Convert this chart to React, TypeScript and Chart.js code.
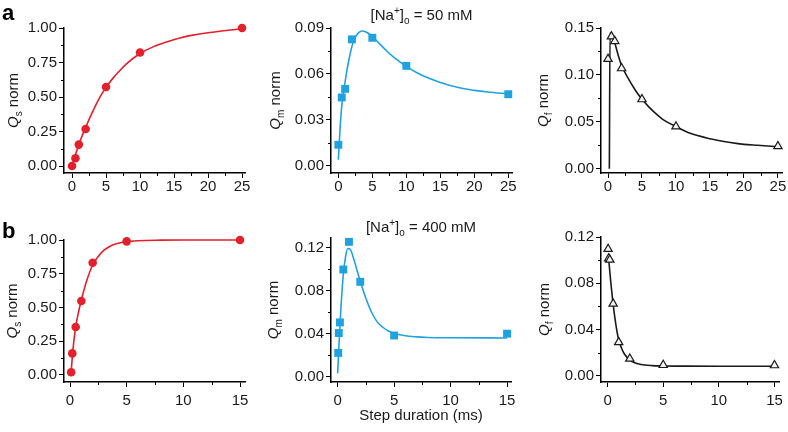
import React, { useEffect, useRef } from "react";
import { Chart, registerables } from "chart.js";

Chart.register(...registerables);

const FONT = "'Liberation Sans', Arial, Helvetica, sans-serif";

// ---------- measured points ----------
const stepA = [0, 0.5, 1, 2, 5, 10, 25];
const qsA = [0.0, 0.056, 0.155, 0.268, 0.572, 0.822, 1.0];
const qmA = [0.0138, 0.0447, 0.0503, 0.0826, 0.0836, 0.0653, 0.0468];
const qfA = [0.117, 0.141, 0.136, 0.107, 0.074, 0.045, 0.024];

const stepBs = [0.1, 0.2, 0.5, 1, 2, 5, 15];
const qsB = [0.02, 0.16, 0.355, 0.548, 0.832, 0.99, 1.0];
const stepB = [0.05, 0.1, 0.2, 0.5, 1, 2, 5, 15];
const qmB = [0.022, 0.0406, 0.0505, 0.0999, 0.1257, 0.0884, 0.0383, 0.04];
const qfB = [0.1096, 0.1015, 0.1003, 0.0623, 0.029, 0.0147, 0.0092, 0.009];

// ---------- fitted curves ----------
const fitQsAx = [0, 0.5, 1, 1.5, 2, 3, 4, 5, 6, 7, 8, 10, 12, 14, 16, 18, 20, 22, 25];
const fitQsAy = [0, 0.08, 0.155, 0.22, 0.28, 0.39, 0.49, 0.57, 0.635, 0.69, 0.74, 0.815, 0.865, 0.9, 0.93, 0.95, 0.965, 0.978, 0.995];
const fitQmAx = [0, 0.25, 0.5, 0.75, 1, 1.25, 1.5, 2, 2.5, 3, 3.5, 4, 5, 6, 7, 8, 10, 12, 15, 18, 20, 22, 25];
const fitQmAy = [0.004, 0.024, 0.039, 0.048, 0.055, 0.062, 0.068, 0.078, 0.084, 0.087, 0.088, 0.0875, 0.0845, 0.08, 0.0755, 0.0715, 0.065, 0.0598, 0.0545, 0.0508, 0.0493, 0.0482, 0.047];
const fitQfAx = [0.2, 0.3, 0.6, 1, 1.5, 2, 3, 4, 5, 6, 7, 8, 10, 12, 15, 18, 20, 22, 25];
const fitQfAy = [0, 0.145, 0.141, 0.134, 0.121, 0.11, 0.096, 0.084, 0.074, 0.066, 0.059, 0.053, 0.045, 0.038, 0.032, 0.028, 0.026, 0.025, 0.0235];

const fitQsBx = [0.1, 0.25, 0.5, 0.75, 1, 1.5, 2, 2.5, 3, 3.5, 4, 5, 6, 8, 10, 15];
const fitQsBy = [0.02, 0.18, 0.355, 0.465, 0.555, 0.705, 0.815, 0.88, 0.925, 0.952, 0.97, 0.988, 0.995, 0.999, 1.0, 1.0];
const fitQmBx = [0, 0.1, 0.2, 0.3, 0.5, 0.7, 0.9, 1.1, 1.3, 1.5, 2, 2.5, 3, 3.5, 4, 4.5, 5, 6, 7, 8, 10, 15];
const fitQmBy = [0.003, 0.026, 0.047, 0.066, 0.095, 0.112, 0.1195, 0.119, 0.114, 0.107, 0.089, 0.073, 0.06, 0.051, 0.046, 0.0425, 0.0405, 0.038, 0.037, 0.0365, 0.0362, 0.036];
const fitQfBx = [0.1, 0.25, 0.5, 0.75, 1, 1.25, 1.5, 2, 2.5, 3, 4, 5, 7, 10, 15];
const fitQfBy = [0.101, 0.085, 0.062, 0.044, 0.031, 0.024, 0.019, 0.0135, 0.011, 0.0097, 0.0088, 0.0085, 0.0083, 0.0082, 0.0082];

// ---------- ticks ----------
const xTicksA = [0, 5, 10, 15, 20, 25];
const xTickLabelsA = ["0", "5", "10", "15", "20", "25"];
const xTicksB = [0, 5, 10, 15];
const xTickLabelsB = ["0", "5", "10", "15"];
const qsTicks = [0, 0.25, 0.5, 0.75, 1];
const qsTickLabels = ["0.00", "0.25", "0.50", "0.75", "1.00"];
const qmTicksA = [0, 0.03, 0.06, 0.09];
const qmTickLabelsA = ["0.00", "0.03", "0.06", "0.09"];
const qfTicksA = [0, 0.05, 0.1, 0.15];
const qfTickLabelsA = ["0.00", "0.05", "0.10", "0.15"];
const qTicksB = [0, 0.04, 0.08, 0.12];
const qTickLabelsB = ["0.00", "0.04", "0.08", "0.12"];

const RED = "#e3202b";
const BLUE = "#1fa3e0";
const BLACK = "#1a1a1a";

type Run = { t: string; i?: boolean; sub?: boolean; sup?: boolean; b?: boolean };

type Panel = {
  box: [number, number, number, number];
  area: [number, number, number, number];
  xr: [number, number];
  yr: [number, number];
  xs: number[]; ys: number[];
  fx: number[]; fy: number[];
  xt: number[]; xl: string[];
  yt: number[]; yl: string[];
  color: string;
  style: "circle" | "rect" | "triangle";
  sub: string;
  titleOff: number;
  xPad: number;
  title?: string;
  titleY?: number;
  letter?: string;
  xTitle?: boolean;
};

const panels: Panel[] = [
  { box: [0, 0, 262, 200], area: [64, 28, 245, 173], xr: [-1.18, 25.44], yr: [-0.0507, 1.0], xs: stepA, ys: qsA, fx: fitQsAx, fy: fitQsAy, xt: xTicksA, xl: xTickLabelsA, yt: qsTicks, yl: qsTickLabels, color: RED, style: "circle", sub: "s", titleOff: 51, xPad: 0, letter: "a" },
  { box: [262, 0, 262, 200], area: [331, 28, 512, 173], xr: [-1.08, 25.55], yr: [-0.0046, 0.09], xs: stepA, ys: qmA, fx: fitQmAx, fy: fitQmAy, xt: xTicksA, xl: xTickLabelsA, yt: qmTicksA, yl: qmTickLabelsA, color: BLUE, style: "rect", sub: "m", titleOff: 56, xPad: 0, title: "50", titleY: 20 },
  { box: [524, 0, 264, 200], area: [601, 28, 782, 173], xr: [-1.03, 25.6], yr: [-0.0045, 0.15], xs: stepA, ys: qfA, fx: fitQfAx, fy: fitQfAy, xt: xTicksA, xl: xTickLabelsA, yt: qfTicksA, yl: qfTickLabelsA, color: BLACK, style: "triangle", sub: "f", titleOff: 58, xPad: 0 },
  { box: [0, 200, 262, 232], area: [64, 240, 245, 382], xr: [-0.53, 15.44], yr: [-0.052, 1.0], xs: stepBs, ys: qsB, fx: fitQsBx, fy: fitQsBy, xt: xTicksB, xl: xTickLabelsB, yt: qsTicks, yl: qsTickLabels, color: RED, style: "circle", sub: "s", titleOff: 52, xPad: 5, letter: "b" },
  { box: [262, 200, 262, 232], area: [331, 238, 511, 382], xr: [-0.59, 15.35], yr: [-0.0051, 0.1293], xs: stepB, ys: qmB, fx: fitQmBx, fy: fitQmBy, xt: xTicksB, xl: xTickLabelsB, yt: qTicksB, yl: qTickLabelsB, color: BLUE, style: "rect", sub: "m", titleOff: 58, xPad: 5, title: "400", titleY: 232, xTitle: true },
  { box: [524, 200, 264, 232], area: [601, 237, 782, 382], xr: [-0.59, 15.44], yr: [-0.0054, 0.12], xs: stepB, ys: qfB, fx: fitQfBx, fy: fitQfBy, xt: xTicksB, xl: xTickLabelsB, yt: qTicksB, yl: qTickLabelsB, color: BLACK, style: "triangle", sub: "f", titleOff: 57, xPad: 5 },
];

function runFont(r: Run, size: number) {
  const s = r.sub || r.sup ? Math.round(size * 0.65) : size;
  return `${r.i ? "italic " : ""}${r.b ? "bold " : ""}${s}px ${FONT}`;
}

function drawRuns(ctx: CanvasRenderingContext2D, runs: Run[], size: number, x: number, y: number, rotate: boolean) {
  ctx.save();
  ctx.fillStyle = BLACK;
  ctx.textBaseline = "alphabetic";
  ctx.textAlign = "left";
  let total = 0;
  const widths = runs.map((r) => {
    ctx.font = runFont(r, size);
    const w = ctx.measureText(r.t).width;
    total += w;
    return w;
  });
  ctx.translate(x, y);
  if (rotate) ctx.rotate(-Math.PI / 2);
  let cx = -total / 2;
  runs.forEach((r, k) => {
    ctx.font = runFont(r, size);
    const dy = r.sub ? size * 0.28 : r.sup ? -size * 0.4 : 0;
    ctx.fillText(r.t, cx, dy);
    cx += widths[k];
  });
  ctx.restore();
}

function mids(a: number[]) {
  const out: number[] = [];
  for (let k = 0; k < a.length - 1; k++) out.push((a[k] + a[k + 1]) / 2);
  return out;
}

function makeConfig(p: Panel): any {
  const [bl, bt, bw, bh] = p.box;
  const [al, at, ar, ab] = p.area;
  const decor = {
    id: "decor",
    afterDraw(chart: any) {
      const ctx = chart.ctx as CanvasRenderingContext2D;
      const a = chart.chartArea;
      const sx = chart.scales.x;
      const sy = chart.scales.y;
      ctx.save();
      ctx.strokeStyle = "#000";
      ctx.lineWidth = 1;
      mids(p.xt).forEach((v) => {
        const px = Math.round(sx.getPixelForValue(v)) + 0.5;
        ctx.beginPath();
        ctx.moveTo(px, a.bottom);
        ctx.lineTo(px, a.bottom + 3);
        ctx.stroke();
      });
      mids(p.yt).forEach((v) => {
        const py = Math.round(sy.getPixelForValue(v)) + 0.5;
        ctx.beginPath();
        ctx.moveTo(a.left - 3, py);
        ctx.lineTo(a.left, py);
        ctx.stroke();
      });
      ctx.restore();
      const midY = (a.top + a.bottom) / 2;
      drawRuns(ctx, [{ t: "Q", i: true }, { t: p.sub, sub: true }, { t: " norm" }], 15, a.left - p.titleOff + 5, midY, true);
      if (p.title) {
        drawRuns(ctx, [{ t: "[Na" }, { t: "+", sup: true }, { t: "]" }, { t: "o", sub: true }, { t: ` = ${p.title} mM` }], 15, (a.left + a.right) / 2, (p.titleY as number) - bt, false);
      }
      if (p.xTitle) {
        drawRuns(ctx, [{ t: "Step duration (ms)" }], 15, (a.left + a.right) / 2, 420 - bt, false);
      }
      if (p.letter) {
        ctx.save();
        ctx.font = `bold 22px ${FONT}`;
        ctx.fillStyle = "#000";
        ctx.textBaseline = "alphabetic";
        ctx.fillText(p.letter, 2, p.letter === "a" ? 20 : 38);
        ctx.restore();
      }
    },
  };
  const tickFont = { family: FONT, size: 15 };
  const radius = p.style === "rect" ? 5.6 : p.style === "triangle" ? 4.8 : 4.3;
  return {
    type: "scatter",
    data: {
      datasets: [
        {
          data: p.xs.map((x, k) => ({ x, y: p.ys[k] })),
          showLine: false,
          pointStyle: p.style,
          pointRadius: radius,
          pointBackgroundColor: p.style === "triangle" ? "#f4f4f4" : p.color,
          pointBorderColor: p.color,
          pointBorderWidth: p.style === "triangle" ? 1.2 : 0,
          clip: false,
          order: 0,
        },
        {
          data: p.fx.map((x, k) => ({ x, y: p.fy[k] })),
          showLine: true,
          pointRadius: 0,
          borderColor: p.color,
          borderWidth: 1.6,
          cubicInterpolationMode: "monotone",
          clip: false,
          order: 1,
        },
      ],
    },
    options: {
      responsive: false,
      animation: false,
      events: [],
      layout: { padding: { left: 0, top: at - bt, right: bl + bw - ar, bottom: 0 } },
      plugins: { legend: { display: false }, tooltip: { enabled: false } },
      scales: {
        x: {
          type: "linear",
          min: p.xr[0],
          max: p.xr[1],
          afterBuildTicks: (s: any) => { s.ticks = p.xt.map((v) => ({ value: v })); },
          afterFit: (s: any) => { s.height = bt + bh - ab; },
          grid: { display: true, drawOnChartArea: false, drawTicks: true, tickLength: 5, tickColor: "#000", tickWidth: 1 },
          border: { display: true, color: "#000", width: 1.5 },
          ticks: { callback: (_v: any, k: number) => p.xl[k], font: tickFont, color: BLACK, padding: p.xPad, autoSkip: false, maxRotation: 0 },
        },
        y: {
          type: "linear",
          min: p.yr[0],
          max: p.yr[1],
          afterBuildTicks: (s: any) => { s.ticks = p.yt.map((v) => ({ value: v })); },
          afterFit: (s: any) => { s.width = al - bl; },
          grid: { display: true, drawOnChartArea: false, drawTicks: true, tickLength: 5, tickColor: "#000", tickWidth: 1 },
          border: { display: true, color: "#000", width: 1.5 },
          ticks: { callback: (_v: any, k: number) => p.yl[k], font: tickFont, color: BLACK, padding: 2, autoSkip: false },
        },
      },
    },
    plugins: [decor],
  };
}

function PanelChart({ p }: { p: Panel }) {
  const ref = useRef<HTMLCanvasElement>(null);
  useEffect(() => {
    const canvas = ref.current as HTMLCanvasElement;
    const chart = new Chart(canvas, makeConfig(p));
    return () => chart.destroy();
  }, [p]);
  const [l, t, w, h] = p.box;
  return (
    <canvas
      ref={ref}
      width={w}
      height={h}
      style={{ position: "absolute", left: l, top: t, width: w, height: h }}
    />
  );
}

export default function App() {
  return (
    <div style={{ position: "absolute", left: 0, top: 0, width: 788, height: 432, background: "#fff" }}>
      {panels.map((p, k) => (
        <PanelChart key={k} p={p} />
      ))}
    </div>
  );
}
